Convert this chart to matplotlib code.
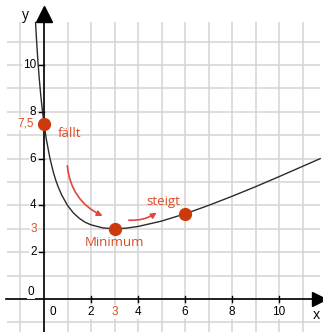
import matplotlib.pyplot as plt
from matplotlib.patches import FancyArrowPatch

plt.rcParams['font.family'] = ['Open Sans', 'DejaVu Sans']

kurve_x = [-0.36, -0.33, -0.3, -0.25, -0.2, -0.15, -0.1, -0.05, 0, 0.1, 0.25, 0.4,
           0.5, 0.6, 0.75, 1, 1.25, 1.5, 1.75, 2, 2.5, 3, 3.5, 4, 5, 6, 7, 8, 9,
           10, 11, 11.75]
kurve_y = [11.82, 11.28, 10.78, 10.04, 9.40, 8.84, 8.34, 7.90, 7.5, 6.82, 6.03, 5.41,
           5.08, 4.80, 4.45, 4.00, 3.68, 3.45, 3.28, 3.17, 3.04, 3.00, 3.03, 3.10,
           3.33, 3.64, 4.00, 4.39, 4.80, 5.23, 5.67, 6.00]

# markierte Punkte: Schnitt mit y-Achse, Minimum, Punkt bei x = 6
punkte_x = [0, 3, 6]
punkte_y = [7.5, 3, 3.64]

x_ticks = [2, 4, 6, 8, 10]
y_ticks = [2, 4, 6, 8, 10]

rot = '#dc4a24'
rot_punkt = '#cc3a0c'
rot_pfeil = '#e2463e'
gitter = '#d4d4d4'
zahl = dict(fontsize=8.5, family='Liberation Sans')

fig = plt.figure(figsize=(3.23, 3.32), dpi=100)
ax = fig.add_axes([0, 0, 1, 1])
ax.set_xlim(-1.872, 11.87)
ax.set_ylim(-1.41, 12.78)
ax.axis('off')

# Kästchengitter
for gx in range(-1, 12):
    ax.vlines(gx, -1.41, 11.85, color=gitter, lw=1.1, zorder=1)
for gy in range(-1, 12):
    ax.hlines(gy, -1.57, 11.75, color=gitter, lw=1.1, zorder=1)

# Achsen mit Pfeilspitzen
ax.plot([-1.6, 11.6], [0, 0], color='black', lw=1.2, zorder=3)
ax.plot([0, 0], [-1.41, 12.0], color='black', lw=1.2, zorder=3)
ax.plot(11.7, 0, marker='>', ms=10, color='black', clip_on=False, zorder=3)
ax.plot(0, 12.2, marker='^', ms=11, color='black', clip_on=False, zorder=3)

box = dict(fc='white', ec='none', pad=0.6)
for t in x_ticks:
    ax.plot([t, t], [-0.13, 0.13], color='black', lw=1.0, zorder=3)
    ax.text(t, -0.55, str(t), ha='center', va='center', bbox=box, zorder=4, **zahl)
for t in y_ticks:
    ax.plot([-0.22, 0], [t, t], color='black', lw=1.0, zorder=3)
    ax.text(-0.32, t, str(t), ha='right', va='center', bbox=box, zorder=4, **zahl)
ax.text(0.38, -0.55, '0', ha='center', va='center', bbox=box, zorder=4, **zahl)
ax.text(-0.55, 0.3, '0', ha='center', va='center', bbox=box, zorder=4, **zahl)

# besondere Werte in Rot
ax.text(punkte_x[1], -0.55, '3', ha='center', va='center', color=rot, bbox=box,
        zorder=4, **zahl)
ax.text(-0.3, punkte_y[1], '3', ha='right', va='center', color=rot, bbox=box,
        zorder=4, **zahl)
ax.text(-0.45, punkte_y[0], '7,5', ha='right', va='center', color=rot, bbox=box,
        zorder=4, **zahl)

ax.text(11.6, -0.7, 'x', ha='center', va='center', fontsize=10)
ax.text(-0.8, 12.1, 'y', ha='center', va='center', fontsize=10)

# Funktionsgraph
ax.plot(kurve_x, kurve_y, color='#2b2b2b', lw=1.0, zorder=5)
ax.plot(punkte_x, punkte_y, 'o', ms=8.5, color=rot_punkt, zorder=6)

ax.text(1.1, 7.09, 'fällt', ha='center', va='center', fontsize=9.5, color=rot,
        zorder=4)
ax.text(2.98, 2.4, 'Minimum', ha='center', va='center', fontsize=9.5, color=rot,
        zorder=4)
ax.text(5.06, 4.15, 'steigt', ha='center', va='center', fontsize=9.5, color=rot,
        zorder=4)

pfeil_ab = FancyArrowPatch((0.98, 5.81), (2.6, 3.5), connectionstyle='arc3,rad=0.3',
                           arrowstyle='-|>', mutation_scale=8, color=rot_pfeil,
                           lw=1.2, zorder=5)
pfeil_auf = FancyArrowPatch((3.49, 3.38), (4.89, 3.76), connectionstyle='arc3,rad=0.2',
                            arrowstyle='-|>', mutation_scale=8, color=rot_pfeil,
                            lw=1.2, zorder=5)
ax.add_patch(pfeil_ab)
ax.add_patch(pfeil_auf)

fig.savefig('out.png', dpi=100)
